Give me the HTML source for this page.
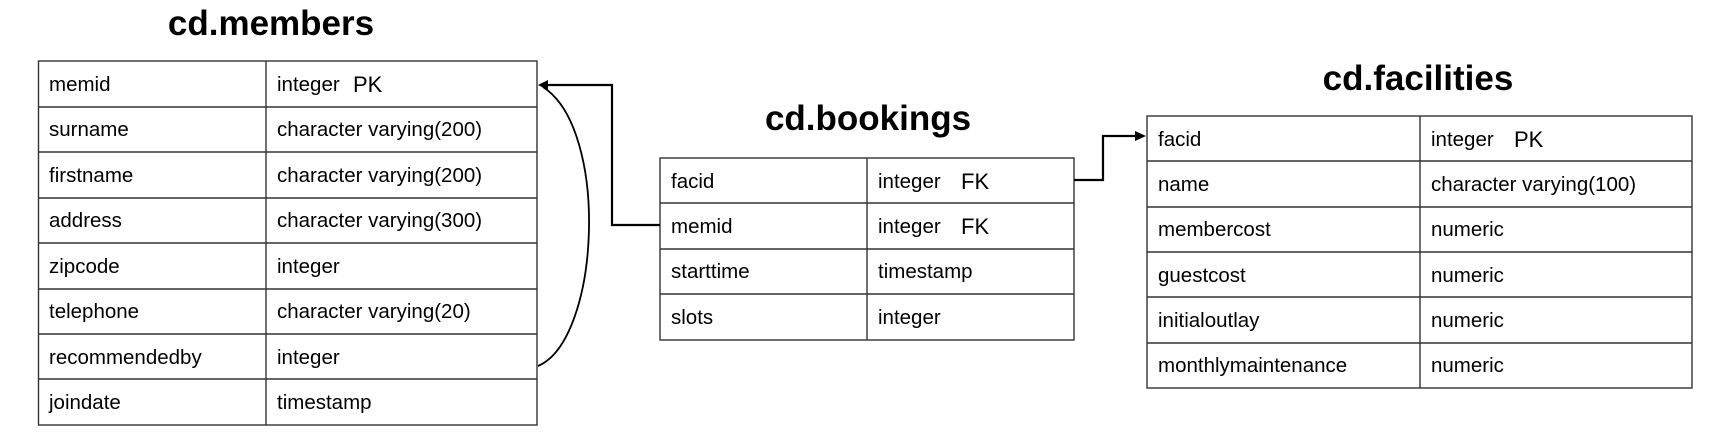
<!DOCTYPE html>
<html><head><meta charset="utf-8"><style>
html,body{margin:0;padding:0;background:#fff;}
svg{display:block;}
text{font-family:"Liberation Sans",Arial,sans-serif;fill:#000;}
.t{font-size:20.5px;}
.k{font-size:22px;}
.h{font-size:35px;font-weight:bold;}
.g{stroke:#333;stroke-width:1.4;fill:none;}
</style></head><body>
<svg width="1726" height="446" viewBox="0 0 1726 446" xmlns="http://www.w3.org/2000/svg">
<!-- members -->
<text class="h" x="271" y="35" text-anchor="middle">cd.members</text>
<g class="g">
<rect x="38.5" y="61" width="498.5" height="364"/>
<line x1="266" y1="61" x2="266" y2="425"/>
<line x1="38.5" y1="107" x2="537" y2="107"/>
<line x1="38.5" y1="152" x2="537" y2="152"/>
<line x1="38.5" y1="198" x2="537" y2="198"/>
<line x1="38.5" y1="243" x2="537" y2="243"/>
<line x1="38.5" y1="289" x2="537" y2="289"/>
<line x1="38.5" y1="334" x2="537" y2="334"/>
<line x1="38.5" y1="379" x2="537" y2="379"/>
</g>
<g class="t">
<text x="49" y="91">memid</text><text x="277" y="91">integer</text><text class="k" x="353" y="92">PK</text>
<text x="49" y="136">surname</text><text x="277" y="136">character varying(200)</text>
<text x="49" y="182">firstname</text><text x="277" y="182">character varying(200)</text>
<text x="49" y="227">address</text><text x="277" y="227">character varying(300)</text>
<text x="49" y="273">zipcode</text><text x="277" y="273">integer</text>
<text x="49" y="318">telephone</text><text x="277" y="318">character varying(20)</text>
<text x="49" y="364">recommendedby</text><text x="277" y="364">integer</text>
<text x="49" y="409">joindate</text><text x="277" y="409">timestamp</text>
</g>
<!-- bookings -->
<text class="h" x="868" y="130" text-anchor="middle">cd.bookings</text>
<g class="g">
<rect x="660" y="158" width="414" height="182"/>
<line x1="867" y1="158" x2="867" y2="340"/>
<line x1="660" y1="203" x2="1074" y2="203"/>
<line x1="660" y1="249" x2="1074" y2="249"/>
<line x1="660" y1="294" x2="1074" y2="294"/>
</g>
<g class="t">
<text x="671" y="188">facid</text><text x="878" y="188">integer</text><text class="k" x="961" y="189">FK</text>
<text x="671" y="233">memid</text><text x="878" y="233">integer</text><text class="k" x="961" y="234">FK</text>
<text x="671" y="278">starttime</text><text x="878" y="278">timestamp</text>
<text x="671" y="324">slots</text><text x="878" y="324">integer</text>
</g>
<!-- facilities -->
<text class="h" x="1418" y="90" text-anchor="middle">cd.facilities</text>
<g class="g">
<rect x="1147" y="116" width="545" height="272"/>
<line x1="1420" y1="116" x2="1420" y2="388"/>
<line x1="1147" y1="161" x2="1692" y2="161"/>
<line x1="1147" y1="207" x2="1692" y2="207"/>
<line x1="1147" y1="252" x2="1692" y2="252"/>
<line x1="1147" y1="297" x2="1692" y2="297"/>
<line x1="1147" y1="343" x2="1692" y2="343"/>
</g>
<g class="t">
<text x="1158" y="146">facid</text><text x="1431" y="146">integer</text><text class="k" x="1514" y="147">PK</text>
<text x="1158" y="191">name</text><text x="1431" y="191">character varying(100)</text>
<text x="1158" y="236">membercost</text><text x="1431" y="236">numeric</text>
<text x="1158" y="282">guestcost</text><text x="1431" y="282">numeric</text>
<text x="1158" y="327">initialoutlay</text><text x="1431" y="327">numeric</text>
<text x="1158" y="372">monthlymaintenance</text><text x="1431" y="372">numeric</text>
</g>
<!-- connectors -->
<polyline points="660,225 612,225 612,85 548,85" fill="none" stroke="#000" stroke-width="2.2"/>
<path d="M538,85 L548,80 L548,90 Z" fill="#000"/>
<path d="M538,366 C600,340 610,130 543,87" fill="none" stroke="#000" stroke-width="1.8"/>
<polyline points="1074,180 1103,180 1103,136 1136,136" fill="none" stroke="#000" stroke-width="2.2"/>
<path d="M1146,136 L1135,131 L1135,141 Z" fill="#000"/>
</svg>
</body></html>
